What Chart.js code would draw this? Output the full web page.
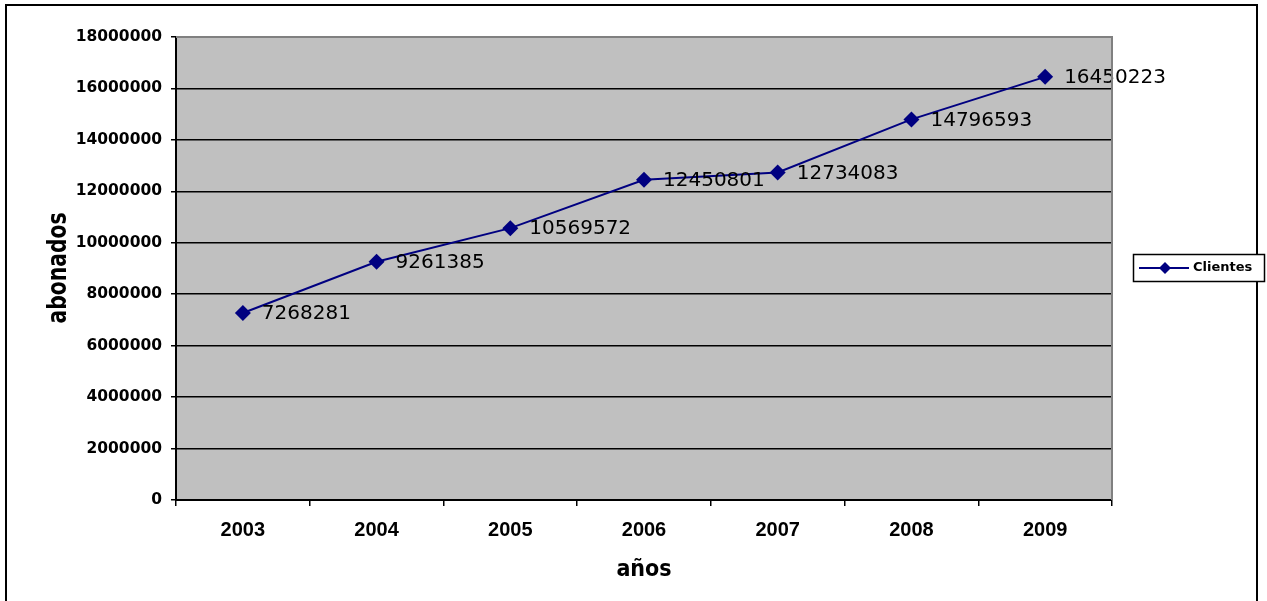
<!DOCTYPE html>
<html>
<head>
<meta charset="utf-8">
<script src="https://cdn.jsdelivr.net/npm/chart.js@4"></script>
<style>
html,body{margin:0;padding:0;background:#fff;}
#wrap{width:1267px;height:601px;position:relative;}
</style>
</head>
<body>
<div id="wrap"><canvas id="c" width="1267" height="601"></canvas></div>
<script>
const categories = ['2003','2004','2005','2006','2007','2008','2009'];
const clientes = [7268281, 9261385, 10569572, 12450801, 12734083, 14796593, 16450223];
const seriesName = 'Clientes';
const yTitle = 'abonados';
const xTitle = 'años';
const yMin = 0, yMax = 18000000, yStep = 2000000;

const NAVY = '#000080';

const decor = {
  id: 'decor',
  beforeDraw(chart) {
    const ctx = chart.ctx, a = chart.chartArea;
    ctx.save();
    ctx.fillStyle = '#fff';
    ctx.fillRect(0, 0, chart.width, chart.height);
    ctx.fillStyle = '#C0C0C0';
    ctx.fillRect(a.left, a.top, a.right - a.left, a.bottom - a.top);
    ctx.restore();
  },
  afterDraw(chart) {
    const ctx = chart.ctx, a = chart.chartArea;
    ctx.save();
    ctx.strokeStyle = '#808080';
    ctx.lineWidth = 2;
    ctx.beginPath();
    ctx.moveTo(a.left, a.top);
    ctx.lineTo(a.right, a.top);
    ctx.lineTo(a.right, a.bottom);
    ctx.stroke();
    ctx.strokeStyle = '#000';
    ctx.lineWidth = 2;
    ctx.strokeRect(6, 5, 1251, 640);
    ctx.fillStyle = '#000';
    ctx.font = 'bold 23px "DejaVu Sans Condensed", "DejaVu Sans"';
    ctx.textAlign = 'center';
    ctx.textBaseline = 'alphabetic';
    ctx.fillText(xTitle, 644, 576);
    ctx.save();
    ctx.translate(66, 268);
    ctx.rotate(-Math.PI / 2);
    const w = ctx.measureText(yTitle).width;
    ctx.scale(111 / w, 1.15);
    ctx.fillText(yTitle, 0, 0);
    ctx.restore();
    ctx.fillStyle = '#fff';
    ctx.fillRect(1133, 254, 131, 27);
    ctx.strokeStyle = '#000';
    ctx.lineWidth = 1.5;
    ctx.strokeRect(1133.5, 254.5, 131, 27);
    ctx.strokeStyle = NAVY;
    ctx.lineWidth = 2;
    ctx.beginPath();
    ctx.moveTo(1139, 268);
    ctx.lineTo(1189, 268);
    ctx.stroke();
    ctx.fillStyle = NAVY;
    ctx.beginPath();
    ctx.moveTo(1165, 262);
    ctx.lineTo(1171, 268);
    ctx.lineTo(1165, 274);
    ctx.lineTo(1159, 268);
    ctx.closePath();
    ctx.fill();
    ctx.fillStyle = '#000';
    ctx.font = 'bold 13px "DejaVu Sans"';
    ctx.textAlign = 'left';
    ctx.textBaseline = 'middle';
    ctx.fillText(seriesName, 1193, 268);
    ctx.restore();
  },
  afterDatasetsDraw(chart) {
    const ctx = chart.ctx;
    const meta = chart.getDatasetMeta(0);
    ctx.save();
    ctx.fillStyle = '#000';
    ctx.font = '20px "DejaVu Sans"';
    ctx.textAlign = 'left';
    ctx.textBaseline = 'middle';
    meta.data.forEach((pt, i) => {
      ctx.fillText(String(chart.data.datasets[0].data[i]), pt.x + 19, pt.y + 1);
    });
    ctx.restore();
  }
};

new Chart(document.getElementById('c'), {
  type: 'line',
  data: {
    labels: categories,
    datasets: [{
      label: seriesName,
      data: clientes,
      borderColor: NAVY,
      backgroundColor: NAVY,
      borderWidth: 2,
      pointStyle: 'rectRot',
      pointRadius: 8,
      pointHoverRadius: 8,
      pointBackgroundColor: NAVY,
      pointBorderColor: NAVY,
      pointBorderWidth: 0,
      tension: 0,
      fill: false
    }]
  },
  plugins: [decor],
  options: {
    responsive: false,
    animation: false,
    devicePixelRatio: 1,
    layout: { padding: { left: 0, top: 37, right: 155, bottom: 0 } },
    plugins: { legend: { display: false }, tooltip: { enabled: false } },
    scales: {
      x: {
        type: 'category',
        offset: true,
        afterFit(s) { s.height = 101; },
        grid: { offset: true, drawOnChartArea: false, drawTicks: true, tickLength: 6, color: '#000', lineWidth: 1.5 },
        border: { color: '#000', width: 2 },
        ticks: { color: '#000', font: { family: '"Liberation Sans", Arial', weight: 'bold', size: 20 }, padding: 12, maxRotation: 0 }
      },
      y: {
        min: yMin, max: yMax,
        afterFit(s) { s.width = 176; },
        ticks: { stepSize: yStep, color: '#000', font: { family: '"DejaVu Sans"', weight: 'bold', size: 15.5 }, padding: 9, callback: v => String(v) },
        grid: {
          color: c => (c.tick && c.tick.value === yMax) ? '#808080' : '#000',
          tickColor: '#000',
          lineWidth: 1.5,
          tickLength: 5
        },
        border: { color: '#000', width: 2 }
      }
    }
  }
});
</script>
</body>
</html>
